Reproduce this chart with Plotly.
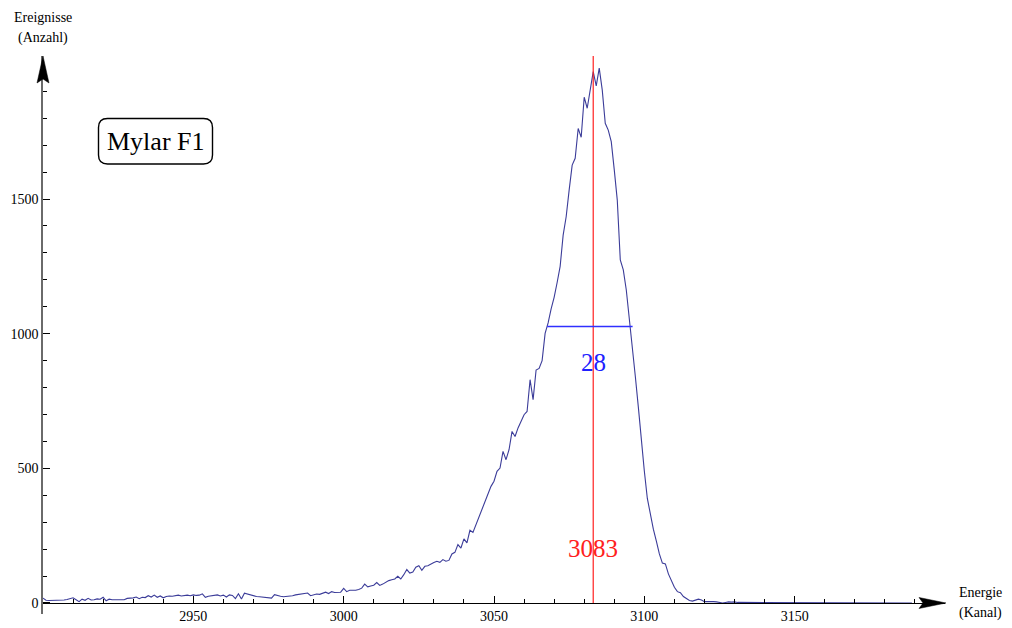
import plotly.graph_objects as go

# Energy spectrum: counts per channel, starting at channel 2900
start_channel = 2900
counts = [
    18, 10, 9, 9, 10, 10, 11, 11, 13, 16,
    19, 12, 5, 14, 10, 17, 11, 12, 15, 14,
    21, 8, 14, 12, 12, 13, 14, 12, 17, 17,
    19, 22, 16, 21, 20, 27, 22, 29, 21, 26,
    19, 24, 26, 25, 28, 29, 26, 28, 29, 27,
    30, 28, 29, 34, 21, 25, 27, 28, 30, 26,
    29, 22, 30, 28, 16, 34, 15, 36, 33, 28,
    25, 24, 23, 22, 22, 20, 18, 31, 27, 25,
    23, 24, 25, 27, 30, 32, 33, 36, 37, 27,
    31, 33, 32, 37, 40, 35, 42, 39, 40, 40,
    54, 42, 47, 46, 47, 50, 55, 70, 60, 63,
    66, 76, 65, 70, 78, 83, 86, 89, 99, 89,
    105, 124, 111, 115, 133, 138, 121, 136, 138, 145,
    150, 155, 151, 161, 155, 158, 182, 188, 217, 204,
    238, 223, 270, 262, 290, 318, 342, 371, 402, 433,
    452, 489, 501, 563, 532, 569, 637, 618, 650, 674,
    699, 711, 829, 755, 865, 871, 900, 1001, 1040, 1092,
    1135, 1190, 1250, 1366, 1434, 1534, 1626, 1651, 1762, 1729,
    1878, 1837, 1899, 1973, 1920, 1986, 1905, 1781, 1756, 1713,
    1608, 1496, 1274, 1237, 1162, 1063, 962, 842, 728, 595,
    490, 388, 326, 274, 230, 182, 148, 145, 108, 80,
    58, 42, 38, 24, 15, 9, 7, 12, 14, 11,
    5, 5, 6, 5, 4, 2, 0, 2, 4, 3,
    4, 2, 2, 0, 1, 0, 0, 1, 0, 0,
    0, 0, 1, 0, 0, 0, 1, 0, 0, 0,
    0, 1, 0, 0, 0, 0, 1, 0, 2, 1,
    0, 0, 0, 1, 0, 0, 0, 0, 1, 0,
    0, 0, 0, 1, 2, 1, 0, 0, 0, 0,
    0, 1, 0, 0, 0, 0, 1, 0, 0, 0,
]
channels = list(range(start_channel, start_channel + len(counts)))

# Peak position and full width at half maximum
peak_channel = 3083
half_level = 1027
fwhm_left = 3067.7
fwhm_width = 28.4

# Axis ticks
x_ticks = [2950, 3000, 3050, 3100, 3150]
y_ticks = [0, 500, 1000, 1500]
x_minor = [c for c in range(2910, 3200, 10) if c % 50]
y_minor = [v for v in range(100, 2000, 100) if v % 500]

X_RANGE = [2900, 3200]
Y_RANGE = [-41, 2031]

# Page geometry (pixels)
W, H = 1012, 628
L, R, T, B = 43, 67, 56, 14
PW, PH = W - L - R, H - T - B


def fx(xp):
    return (xp - L) / PW


def fy(yp):
    return 1 - (yp - T) / PH


SERIF = "Liberation Serif, Times New Roman, serif"
LINE_BLUE = "#3b3c99"

fig = go.Figure()

fig.add_trace(go.Scatter(
    x=channels, y=counts, mode="lines",
    line=dict(color=LINE_BLUE, width=1.1),
    hoverinfo="skip", showlegend=False,
))

shapes = []
# Peak marker
shapes.append(dict(type="line", xref="x", yref="y",
                   x0=peak_channel, x1=peak_channel, y0=0, y1=Y_RANGE[1],
                   line=dict(color="#ff2020", width=1.2)))
# FWHM bar
shapes.append(dict(type="line", xref="x", yref="y",
                   x0=fwhm_left, x1=fwhm_left + fwhm_width,
                   y0=half_level, y1=half_level,
                   line=dict(color="#3030ff", width=1.5)))


def path(points, close=True):
    s = "M " + " L ".join(f"{fx(a):.5f},{fy(b):.5f}" for a, b in points)
    return s + (" Z" if close else "")


# Arrowheads on the axes
x_tip, x_axis_y = 946, 603
shapes.append(dict(type="path", xref="paper", yref="paper",
                   path=path([(x_tip, x_axis_y), (x_tip - 27, x_axis_y - 5.5),
                              (x_tip - 23, x_axis_y), (x_tip - 27, x_axis_y + 5.5)]),
                   fillcolor="black", line=dict(color="black", width=0.5)))
y_axis_x, y_tip = 43, 56
shapes.append(dict(type="path", xref="paper", yref="paper",
                   path=path([(y_axis_x, y_tip), (y_axis_x - 6, y_tip + 27),
                              (y_axis_x, y_tip + 23), (y_axis_x + 6, y_tip + 27)]),
                   fillcolor="black", line=dict(color="black", width=0.5)))

# Rounded label box
bx0, bx1, by0, by1, rr = 98.5, 212.5, 118.5, 164, 9
box = (
    f"M {fx(bx0 + rr):.5f},{fy(by0):.5f} "
    f"L {fx(bx1 - rr):.5f},{fy(by0):.5f} "
    f"Q {fx(bx1):.5f},{fy(by0):.5f} {fx(bx1):.5f},{fy(by0 + rr):.5f} "
    f"L {fx(bx1):.5f},{fy(by1 - rr):.5f} "
    f"Q {fx(bx1):.5f},{fy(by1):.5f} {fx(bx1 - rr):.5f},{fy(by1):.5f} "
    f"L {fx(bx0 + rr):.5f},{fy(by1):.5f} "
    f"Q {fx(bx0):.5f},{fy(by1):.5f} {fx(bx0):.5f},{fy(by1 - rr):.5f} "
    f"L {fx(bx0):.5f},{fy(by0 + rr):.5f} "
    f"Q {fx(bx0):.5f},{fy(by0):.5f} {fx(bx0 + rr):.5f},{fy(by0):.5f} Z"
)
shapes.append(dict(type="path", xref="paper", yref="paper", path=box,
                   fillcolor="white", line=dict(color="black", width=1.4)))

annotations = [
    dict(text="Mylar F1", xref="paper", yref="paper", x=fx(155.5), y=fy(141.5),
         showarrow=False, font=dict(family=SERIF, size=26, color="black"),
         xanchor="center", yanchor="middle"),
    dict(text=f"{fwhm_width:.0f}", xref="x", yref="y", x=peak_channel, y=893,
         showarrow=False, font=dict(family=SERIF, size=25, color="#2020ff"),
         xanchor="center", yanchor="middle"),
    dict(text=str(peak_channel), xref="x", yref="y", x=peak_channel, y=204,
         showarrow=False, font=dict(family=SERIF, size=25, color="#ff2020"),
         xanchor="center", yanchor="middle"),
    dict(text="Ereignisse", xref="paper", yref="paper", x=fx(43), y=fy(17),
         showarrow=False, font=dict(family=SERIF, size=14, color="black"),
         xanchor="center", yanchor="middle"),
    dict(text="(Anzahl)", xref="paper", yref="paper", x=fx(43), y=fy(38),
         showarrow=False, font=dict(family=SERIF, size=14, color="black"),
         xanchor="center", yanchor="middle"),
    dict(text="Energie", xref="paper", yref="paper", x=fx(981), y=fy(592),
         showarrow=False, font=dict(family=SERIF, size=14, color="black"),
         xanchor="center", yanchor="middle"),
    dict(text="(Kanal)", xref="paper", yref="paper", x=fx(981), y=fy(613),
         showarrow=False, font=dict(family=SERIF, size=14, color="black"),
         xanchor="center", yanchor="middle"),
]

x_axis_pos = -Y_RANGE[0] / (Y_RANGE[1] - Y_RANGE[0])

fig.update_layout(
    width=W, height=H,
    margin=dict(l=L, r=R, t=T, b=B, pad=0),
    paper_bgcolor="white", plot_bgcolor="white",
    shapes=shapes, annotations=annotations,
    showlegend=False,
    xaxis=dict(
        range=X_RANGE, anchor="free", position=x_axis_pos,
        showgrid=False, zeroline=False,
        showline=True, linecolor="black", linewidth=1,
        tickmode="array", tickvals=x_ticks,
        ticks="inside", ticklen=7, tickcolor="black", tickwidth=1,
        minor=dict(tickmode="array", tickvals=x_minor, ticks="inside",
                   ticklen=4, tickcolor="black", tickwidth=1, showgrid=False),
        tickfont=dict(family=SERIF, size=14, color="black"),
        automargin=False,
    ),
    yaxis=dict(
        range=Y_RANGE,
        showgrid=False, zeroline=False,
        showline=True, linecolor="#6a6a6a", linewidth=1.5,
        tickmode="array", tickvals=y_ticks,
        ticks="inside", ticklen=7, tickcolor="black", tickwidth=1,
        minor=dict(tickmode="array", tickvals=y_minor, ticks="inside",
                   ticklen=4, tickcolor="black", tickwidth=1, showgrid=False),
        tickfont=dict(family=SERIF, size=14, color="black"),
        automargin=False,
    ),
)

fig.write_html("out.html")
